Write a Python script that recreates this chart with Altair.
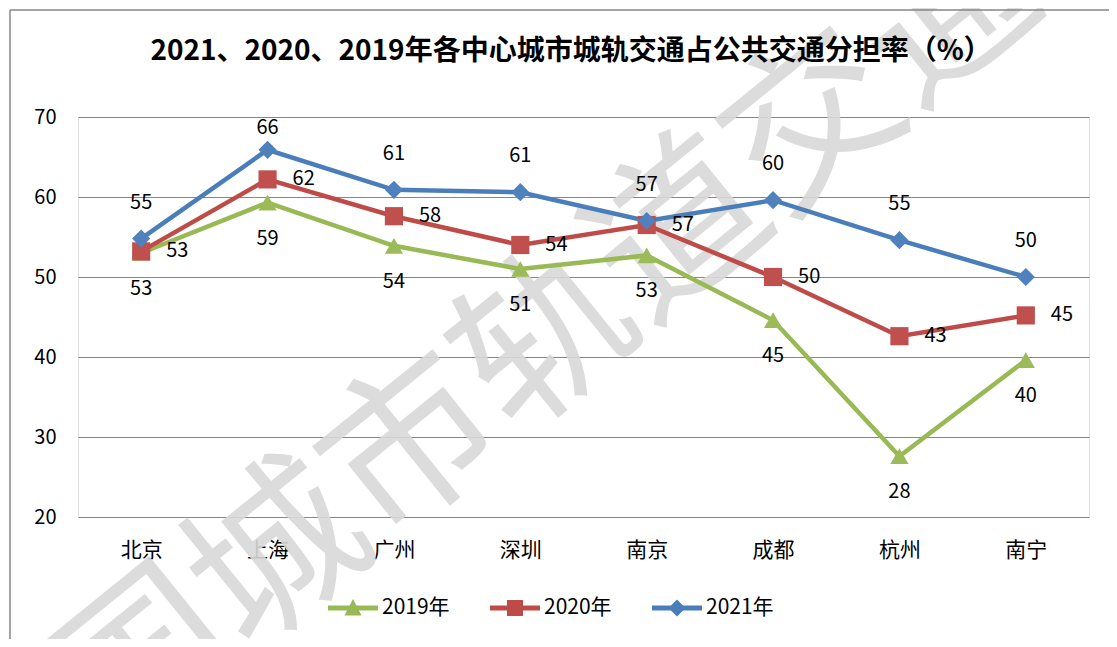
import altair as alt
import pandas as pd

cities = ["北京", "上海", "广州", "深圳", "南京", "成都", "杭州", "南宁"]
years = ["2019年", "2020年", "2021年"]
v2019 = [53.0, 59.3, 53.9, 51.0, 52.7, 44.6, 27.6, 39.6]
v2020 = [53.2, 62.2, 57.6, 54.0, 56.5, 50.0, 42.6, 45.2]
v2021 = [54.8, 65.9, 60.9, 60.6, 57.0, 59.6, 54.6, 50.0]
colors = ["#9BBB59", "#C0504D", "#4F81BD"]
line_colors = ["#98B954", "#BE4B48", "#4A7EBB"]
shapes = ["triangle-up", "square", "diamond"]
marker_sizes = [330, 330, 330]
title_text = "2021、2020、2019年各中心城市城轨交通占公共交通分担率（%）"
watermark_text = "国城市轨道交通"
y_ticks = [20, 30, 40, 50, 60, 70]

FONT = "Noto Sans CJK SC"

rows = []
for yr, vals in zip(years, [v2019, v2020, v2021]):
    for c, v in zip(cities, vals):
        rows.append({"city": c, "year": yr, "value": v})
df = pd.DataFrame(rows)

x_enc = alt.X(
    "city:N", sort=cities,
    scale=alt.Scale(type="point", padding=0.5),
    axis=alt.Axis(title=None, labelAngle=0, labelFontSize=21, labelFont=FONT,
                  labelPadding=22, ticks=False, domain=False, grid=False,
                  labelColor="#000000"),
)
y_enc = alt.Y(
    "value:Q",
    scale=alt.Scale(domain=[20, 70], nice=False, zero=False),
    axis=alt.Axis(title=None, values=y_ticks, labelFontSize=20, labelFont=FONT,
                  labelPadding=22, ticks=False, domain=False, grid=True,
                  gridColor="#868686", gridWidth=1, labelColor="#000000"),
)

base = alt.Chart(df)

line_layers = []
point_layers = []
for yr, shp, sz, col, lcol in zip(years, shapes, marker_sizes, colors, line_colors):
    sub = base.transform_filter(alt.datum.year == yr)
    line_layers.append(sub.mark_line(strokeWidth=4.5, color=lcol).encode(x=x_enc, y=y_enc))
    point_layers.append(
        sub.mark_point(shape=shp, filled=True, size=sz, opacity=1, color=col).encode(x=x_enc, y=y_enc)
    )

label_style = dict(fontSize=20, font=FONT, color="#000000")

lab2021 = (
    base.transform_filter(alt.datum.year == "2021年")
    .transform_calculate(ly="min(datum.value + 4.5, 68.6)", lbl="format(datum.value, '.0f')")
    .mark_text(baseline="middle", **label_style)
    .encode(x=x_enc, y=alt.Y("ly:Q"), text="lbl:N")
)
lab2020 = (
    base.transform_filter(alt.datum.year == "2020年")
    .transform_calculate(lbl="format(datum.value, '.0f')")
    .mark_text(align="left", baseline="middle", dx=25, **label_style)
    .encode(x=x_enc, y=y_enc, text="lbl:N")
)
lab2019 = (
    base.transform_filter(alt.datum.year == "2019年")
    .transform_calculate(ly="datum.value - 4.5", lbl="format(datum.value, '.0f')")
    .mark_text(baseline="middle", **label_style)
    .encode(x=x_enc, y=alt.Y("ly:Q"), text="lbl:N")
)

# legend: line + marker symbols (drawn by the legend, layer marks invisible)
leg_paths = [
    "M-1,-0.1L1,-0.1L1,0.1L-1,0.1Z M-0.34,0.3L0,-0.36L0.34,0.3Z",
    "M-1,-0.1L1,-0.1L1,0.1L-1,0.1Z M-0.32,-0.32L0.32,-0.32L0.32,0.32L-0.32,0.32Z",
    "M-1,-0.1L1,-0.1L1,0.1L-1,0.1Z M0,-0.34L0.34,0L0,0.34L-0.34,0Z",
]
legend = alt.Legend(
    title=None, orient="none", direction="horizontal", legendX=250, legendY=466,
    symbolSize=2500, labelFontSize=21, labelFont=FONT, labelColor="#000000",
    columnPadding=40, labelOffset=4, symbolStrokeWidth=0, symbolOpacity=1,
)
legend_layer = (
    base.mark_point(filled=True, size=1, opacity=0)
    .encode(
        x=x_enc, y=y_enc,
        color=alt.Color("year:N", scale=alt.Scale(domain=years, range=line_colors), legend=legend),
        shape=alt.Shape("year:N", scale=alt.Scale(domain=years, range=leg_paths), legend=legend),
    )
)

# watermark (decorative)
wm = alt.Chart(pd.DataFrame({"t": [watermark_text]})).mark_text(
    font=FONT, fontSize=172, fontWeight=400, angle=321, color="#d9d9d9", opacity=0.9,
    align="center", baseline="middle",
).encode(text="t:N", x=alt.value(470), y=alt.value(225))

# title as text
title = alt.Chart(pd.DataFrame({"t": [title_text]})).mark_text(
    font=FONT, fontSize=28, fontWeight="bold", color="#000000", align="center", baseline="middle",
).encode(text="t:N", x=alt.value(493), y=alt.value(-65))

# outer frame lines (decorative)
frame_left = alt.Chart(pd.DataFrame({"a": [0]})).mark_rule(color="#868686", strokeWidth=1.5).encode(
    x=alt.value(-68), y=alt.value(-107), y2=alt.value(540))
frame_top = alt.Chart(pd.DataFrame({"a": [0]})).mark_rule(color="#868686", strokeWidth=1.5).encode(
    x=alt.value(-68), x2=alt.value(1040), y=alt.value(-107))

chart = alt.layer(
    wm, frame_left, frame_top, title, *line_layers, *point_layers, lab2021, lab2020, lab2019, legend_layer
).properties(
    width=1011, height=400,
    padding={"left": 70, "top": 109, "right": 20, "bottom": 122},
    autosize=alt.AutoSizeParams(type="none"),
).configure_view(stroke="#868686", strokeWidth=1.5).configure(background="white")

chart.save("out.html", embed_options={"renderer": "svg", "actions": False})
